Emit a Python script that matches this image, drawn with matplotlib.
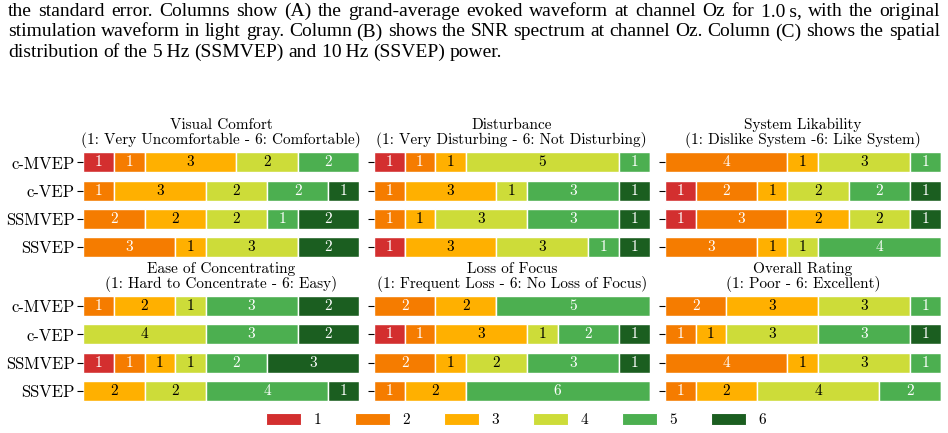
import matplotlib
matplotlib.use("Agg")
import matplotlib.pyplot as plt
from matplotlib.patches import Patch
import numpy as np

plt.rcParams['font.family'] = ['cmr10', 'DejaVu Serif']
plt.rcParams['axes.formatter.use_mathtext'] = True

systems = ["c-MVEP", "c-VEP", "SSMVEP", "SSVEP"]
levels = ["1", "2", "3", "4", "5", "6"]
colors = ["#d32f2f", "#f57c00", "#ffb000", "#cddc39", "#4caf50", "#1b5e20"]
text_colors = ["white", "white", "black", "black", "white", "white"]

titles = [
    "Visual Comfort\n(1: Very Uncomfortable - 6: Comfortable)",
    "Disturbance\n(1: Very Disturbing - 6: Not Disturbing)",
    "System Likability\n(1: Dislike System -6: Like System)",
    "Ease of Concentrating\n(1: Hard to Concentrate - 6: Easy)",
    "Loss of Focus\n(1: Frequent Loss - 6: No Loss of Focus)",
    "Overall Rating\n(1: Poor - 6: Excellent)",
]

# counts per level 1..6 for each system (rows: c-MVEP, c-VEP, SSMVEP, SSVEP)
visual_comfort = [[1, 1, 3, 2, 2, 0], [0, 1, 3, 2, 2, 1], [0, 2, 2, 2, 1, 2], [0, 3, 1, 3, 0, 2]]
disturbance = [[1, 1, 1, 5, 1, 0], [0, 1, 3, 1, 3, 1], [0, 1, 1, 3, 3, 1], [1, 0, 3, 3, 1, 1]]
likability = [[0, 4, 1, 3, 1, 0], [1, 2, 1, 2, 2, 1], [1, 3, 2, 2, 0, 1], [0, 3, 1, 1, 4, 0]]
concentrating = [[0, 1, 2, 1, 3, 2], [0, 0, 0, 4, 3, 2], [1, 1, 1, 1, 2, 3], [0, 0, 2, 2, 4, 1]]
loss_of_focus = [[0, 2, 2, 0, 5, 0], [1, 1, 3, 1, 2, 1], [0, 2, 1, 2, 3, 1], [0, 1, 2, 0, 6, 0]]
overall = [[0, 2, 3, 3, 1, 0], [0, 1, 1, 3, 3, 1], [0, 4, 1, 3, 1, 0], [0, 1, 2, 4, 2, 0]]
datasets = [visual_comfort, disturbance, likability, concentrating, loss_of_focus, overall]

caption_lines = [
    "the standard error. Columns show (A) the grand-average evoked waveform at channel Oz for 1.0\u2009s, with the original",
    "stimulation waveform in light gray. Column (B) shows the SNR spectrum at channel Oz. Column (C) shows the spatial",
    "distribution of the 5\u2009Hz (SSMVEP) and 10\u2009Hz (SSVEP) power.",
]

W, H = 948, 433
fig = plt.figure(figsize=(W / 100, H / 100), dpi=100)

FS = 11
FS_TICK = 12
lefts = [83.3, 374.0, 665.0]
width_px = 275.5
tops = [148.2, 291.9]
height_px = 113.3

axes = []
for r in range(2):
    for c in range(3):
        ax = fig.add_axes([lefts[c] / W, 1 - (tops[r] + height_px) / H, width_px / W, height_px / H])
        axes.append(ax)

ypos = np.arange(len(systems))
for i, (ax, data, title) in enumerate(zip(axes, datasets, titles)):
    arr = np.array(data, dtype=float)
    left = np.zeros(len(systems))
    for k in range(len(levels)):
        vals = arr[:, k]
        ax.barh(ypos, vals, left=left, height=0.7, color=colors[k],
                edgecolor="white", linewidth=1.0)
        for j, v in enumerate(vals):
            if v > 0:
                ax.text(left[j] + v / 2, ypos[j], f"{int(v)}", ha="center", va="center",
                        color=text_colors[k], fontsize=FS)
        left += vals
    ax.set_xlim(0, arr.sum(axis=1).max())
    ax.set_ylim(3.5, -0.5)
    ax.set_yticks(ypos)
    if i % 3 == 0:
        ax.set_yticklabels(systems, fontsize=FS_TICK)
    else:
        ax.set_yticklabels([])
    ax.set_xticks([])
    for s in ax.spines.values():
        s.set_visible(False)
    ax.tick_params(axis="y", length=4, width=0.8, pad=2)
    ax.set_title(title, fontsize=FS, linespacing=1.0, pad=2)

handles = [Patch(facecolor=colors[k], edgecolor="white", linewidth=0.8) for k in range(len(levels))]
fig.legend(handles, levels, ncol=6, loc="center", bbox_to_anchor=(516 / W, 1 - 420 / H),
           frameon=False, fontsize=FS, handlelength=2.29, handleheight=0.85,
           handletextpad=0.78, columnspacing=2.25, borderaxespad=0, borderpad=0)

# caption text (justified)
renderer = fig.canvas.get_renderer()
cap_font = dict(family=["Liberation Serif", "DejaVu Serif"], fontsize=14)
x0, x1 = 8.0, 940.0
baselines = [16.0, 36.5, 57.0]
sp = fig.text(0, 0, "a a", **cap_font)
sp2 = fig.text(0, 0, "aa", **cap_font)
space_w = sp.get_window_extent(renderer).width - sp2.get_window_extent(renderer).width
sp.remove(); sp2.remove()
for li, (line, yb) in enumerate(zip(caption_lines, baselines)):
    words = line.split(" ")
    ts = [fig.text(0, 1 - yb / H, w, va="baseline", ha="left", **cap_font) for w in words]
    widths = [t.get_window_extent(renderer).width for t in ts]
    if li < 2:
        gap = max((x1 - x0 - sum(widths)) / (len(words) - 1), 0.5 * space_w)
    else:
        gap = space_w
    x = x0
    for t, w in zip(ts, widths):
        t.set_x(x / W)
        x += w + gap

fig.savefig("out.png", dpi=100)
